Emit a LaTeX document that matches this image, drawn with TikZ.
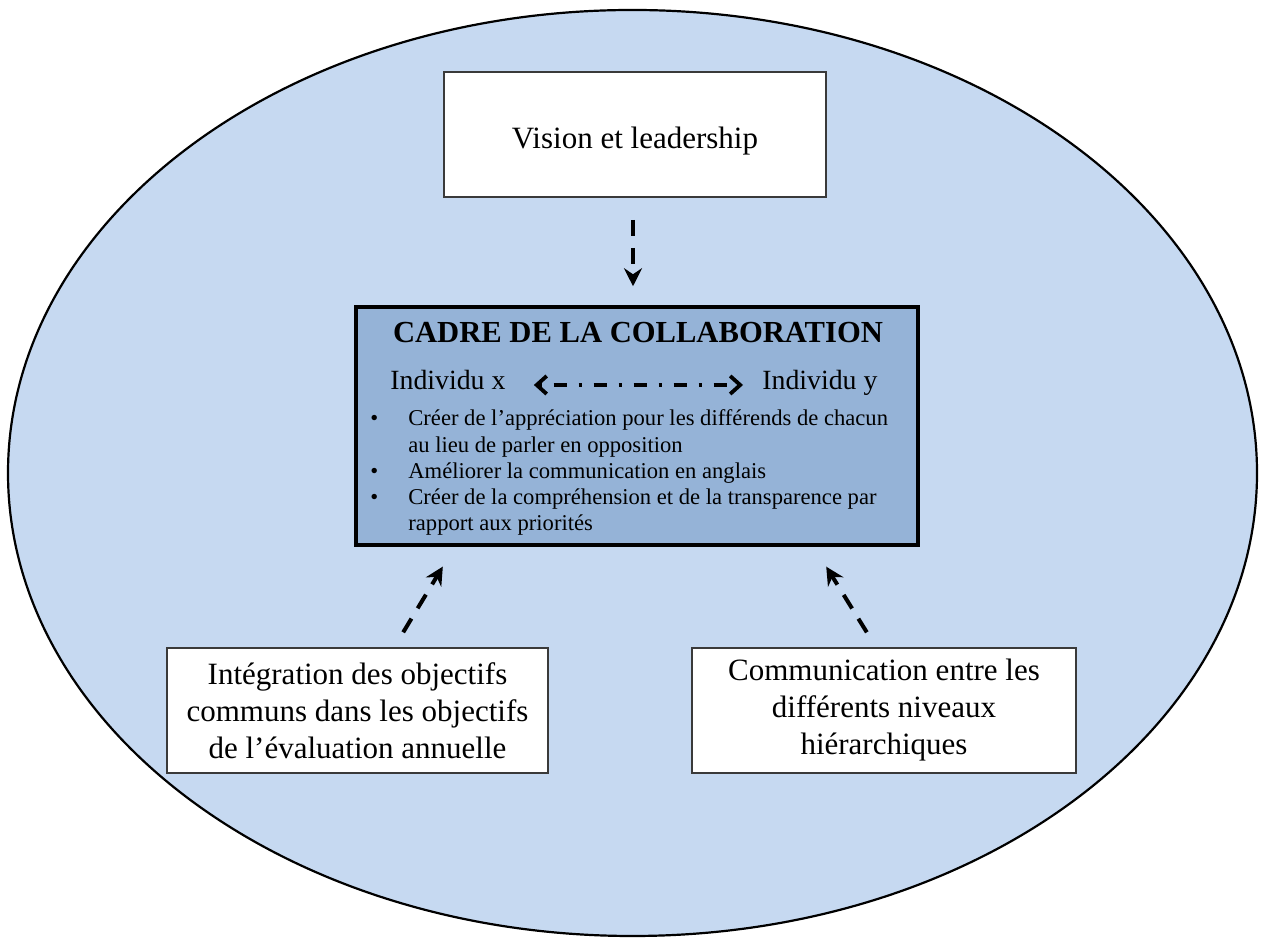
\documentclass[tikz,border=0pt]{standalone}
\usepackage{fontspec}
\setmainfont{Liberation Serif}
\usepackage{tikz}
\usetikzlibrary{arrows.meta,positioning}
\definecolor{ellc}{HTML}{C6D9F1}
\definecolor{cadc}{HTML}{95B3D7}
\definecolor{bordc}{HTML}{3A3A3A}
\tikzset{
  bx/.style={draw=bordc,line width=0.8pt,fill=white,align=center,inner sep=0pt,font=\fontsize{15.5}{18.5}\selectfont},
  cbx/.style={draw=black,line width=1.75pt,fill=cadc,inner sep=0pt},
  dar/.style={-{Stealth[length=9pt,width=9pt,inset=3pt]},line width=2pt,dash pattern=on 8pt off 6pt},
  ddar/.style={{Straight Barb[length=5pt,width=9pt]}-{Straight Barb[length=5pt,width=9pt]},line width=1.9pt,dash pattern=on 1.5pt off 6pt on 6.5pt off 6pt},
  ind/.style={anchor=base west,inner sep=0pt,font=\fontsize{13.9}{16}\selectfont}
}
\begin{document}
\begin{tikzpicture}[x=5pt,y=5pt]
\useasboundingbox (0,0) rectangle (126.1,94);
\draw[line width=1.1pt,fill=ellc] (63.25,46.7) ellipse [x radius=62.45,y radius=46.3];
% boxes
\node[bx,minimum width=191pt,minimum height=62.5pt,text height=17pt] (vision) at (63.5,80.55) {Vision et leadership};
\node[cbx,minimum width=281pt,minimum height=119pt] (cadre) at (63.7,51.4) {};
\node[bx,minimum width=190.5pt,minimum height=62.5pt] (integ) at (35.75,22.95) {Intégration des objectifs\\communs dans les objectifs\\de l’évaluation annuelle};
\node[bx,minimum width=192pt,minimum height=62.5pt] (comm) at (88.4,22.95) {Communication entre les\\différents niveaux\\hiérarchiques};
% inside the cadre
\node[anchor=base,inner sep=0pt,font=\bfseries\fontsize{15.3}{18}\selectfont] (ttl) at (63.8,59.7) {CADRE DE LA COLLABORATION};
\node[ind] (indx) at (39.0,55.0) {Individu x};
\node[ind] (indy) at (76.2,55.0) {Individu y};
\node[anchor=base west,inner sep=0pt,font=\fontsize{11.3}{13.1}\selectfont] (pts) at (37.0,51.4) {\begin{tabular}[t]{@{}p{19pt}@{}p{256pt}@{}}
\textbullet & Créer de l’appréciation pour les différends de chacun\newline au lieu de parler en opposition\\
\textbullet & Améliorer la communication en anglais\\
\textbullet & Créer de la compréhension et de la transparence par\newline rapport aux priorités
\end{tabular}};
% arrows
\draw[ddar,shorten <=14pt,shorten >=9.5pt] ([yshift=2.5pt]indx.base east) -- ([yshift=2.5pt]indy.base west);
\draw[dar,shorten <=11pt,shorten >=9.5pt] ([xshift=-1pt]vision.south) -- ([xshift=-1pt]vision.south |- cadre.north);
\draw[dar,shorten <=8.7pt,shorten >=11.6pt] ([xshift=18.35pt]integ.north) -- ([xshift=-91.1pt]cadre.south);
\draw[dar,shorten <=8.75pt,shorten >=11.7pt] ([xshift=-4pt]comm.north) -- ([xshift=88.45pt]cadre.south);
\end{tikzpicture}
\end{document}
